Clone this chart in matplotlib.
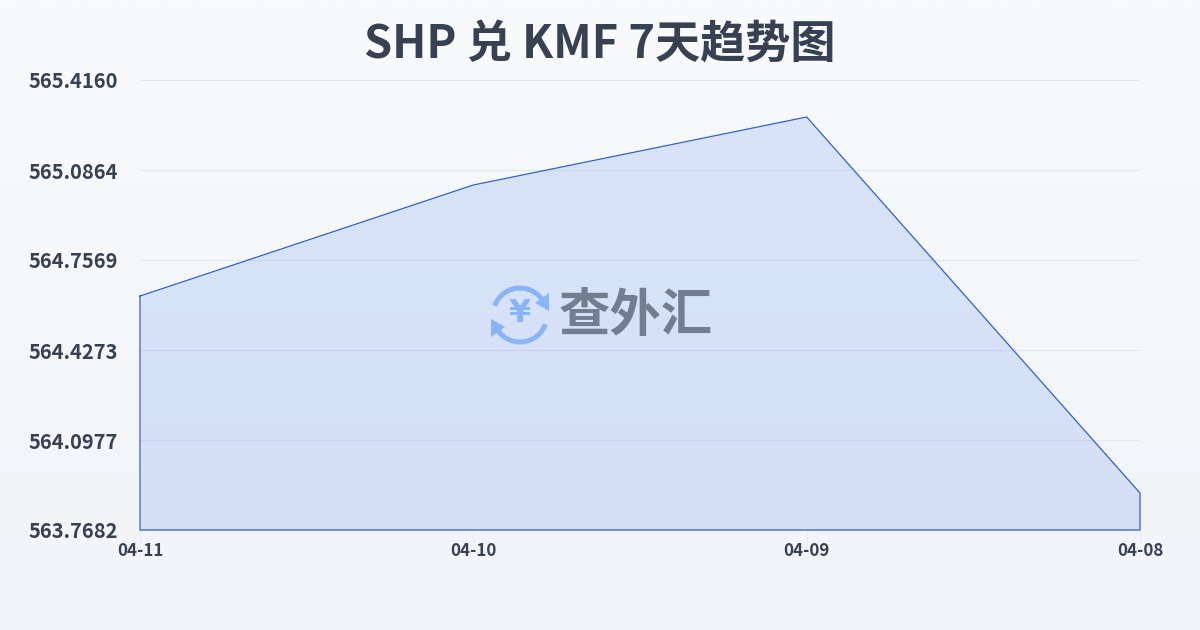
import numpy as np
import matplotlib
matplotlib.use("Agg")
import matplotlib.pyplot as plt
from matplotlib.patches import Arc, Polygon

plt.rcParams['font.family'] = ['Noto Sans CJK SC', 'DejaVu Sans']

dates = ['04-11', '04-10', '04-09', '04-08']
rates = [564.625, 565.0315, 565.2805, 563.9037]
y_ticks = [563.7682, 564.0977, 564.4273, 564.7569, 565.0864, 565.4160]
y_labels = ['563.7682', '564.0977', '564.4273', '564.7569', '565.0864', '565.4160']
title = 'SHP 兑 KMF 7天趋势图'
brand = '查外汇'

W, H = 1200, 630
fig = plt.figure(figsize=(W / 100, H / 100), dpi=100)

bg = fig.add_axes([0, 0, 1, 1], zorder=0)
bg.axis('off')
grad = np.linspace(0, 1, 256)[:, None, None]
top = np.array([0xf8, 0xfa, 0xfc]) / 255
bot = np.array([0xf1, 0xf4, 0xf8]) / 255
bg.imshow(top + (bot - top) * grad, aspect='auto', extent=[0, 1, 0, 1], origin='upper')

ax = fig.add_axes([140 / W, 1 - 530 / H, 1000 / W, 450 / H], zorder=1)
ax.patch.set_alpha(0)
x = np.arange(len(dates))
ax.set_xlim(0, len(dates) - 1)
ax.set_ylim(y_ticks[0], y_ticks[-1])
for s in ax.spines.values():
    s.set_visible(False)
ax.set_yticks(y_ticks, y_labels)
ax.set_xticks(x, dates)
ax.grid(axis='y', color='#e2e8f0', lw=0.8)
ax.set_axisbelow(True)
ax.tick_params(axis='y', length=0, pad=16, labelsize=14.5, labelcolor='#374151')
ax.tick_params(axis='x', length=10, width=0.8, color='#e8ebef', pad=-1, labelsize=12.2, labelcolor='#374151')
for lab in ax.get_yticklabels() + ax.get_xticklabels():
    lab.set_fontweight('bold')
ax.fill_between(x, rates, y_ticks[0], color='#2563eb', alpha=0.14, lw=0, zorder=2)
ax.plot(np.r_[x, x[-1], x[0], x[0]], np.r_[rates, y_ticks[0], y_ticks[0], rates[0]],
        color='#2f62c8', lw=0.9, zorder=3, clip_on=False, solid_joinstyle='miter')

fig.text(600 / W, 1 - 45 / H, title, ha='center', va='center', fontsize=32.5,
         fontweight='bold', color='#374151', zorder=5)

# watermark overlay in pixel coordinates
ov = fig.add_axes([0, 0, 1, 1], zorder=4)
ov.axis('off')
ov.set_xlim(0, W)
ov.set_ylim(H, 0)
blue = '#8ab4f8'
cx, cy, d = 520, 315, 54
ov.add_patch(Arc((cx, cy), d, d, theta1=200, theta2=325, color=blue, lw=3.6))
ov.add_patch(Arc((cx, cy), d, d, theta1=20, theta2=145, color=blue, lw=3.6))
ov.add_patch(Polygon([(549, 293), (549, 311), (535, 303)], closed=True, color=blue, lw=0))
ov.add_patch(Polygon([(491, 337), (491, 319), (505, 327)], closed=True, color=blue, lw=0))
ov.text(cx, cy - 1, '¥', ha='center', va='center', fontsize=23, color=blue,
        fontweight='bold', family='DejaVu Sans')
ov.text(636, 315, brand, ha='center', va='center', fontsize=37, color='#747d8f', fontweight='bold')

fig.savefig('out.png', dpi=100)
